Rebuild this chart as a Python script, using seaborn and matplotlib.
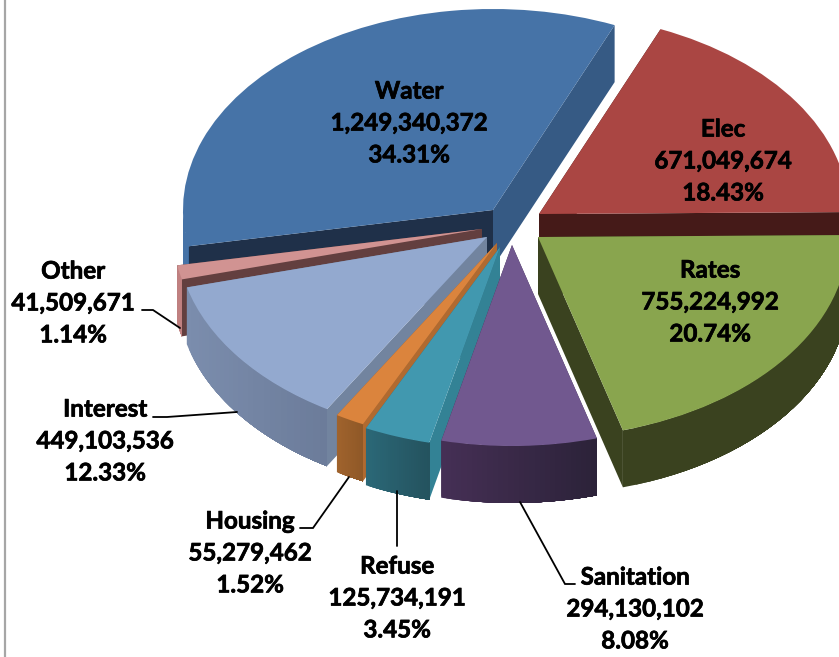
import numpy as np
import matplotlib
matplotlib.use("Agg")
import matplotlib.pyplot as plt
import matplotlib.patheffects as pe
import seaborn as sns

# Budget split, clockwise from the Elec slice
names = ["Elec", "Rates", "Sanitation", "Refuse", "Housing", "Interest", "Other", "Water"]
amounts = [671049674, 755224992, 294130102, 125734191, 55279462, 449103536, 41509671, 1249340372]

# Look of each slice
top_colors = sns.color_palette(["#aa4643", "#89a54e", "#71588f", "#4198af",
                                "#db843d", "#93a9cf", "#d19392", "#4673a7"])
rim_left = ["#451a18", "#3a421f", "#452f55", "#2b6877", "#a0632d", "#7b8dad", "#c08080", "#4673a7"]
rim_right = ["#451a18", "#3a421f", "#2b2238", "#24525e", "#8f5827", "#6b7b99", "#c08080", "#4673a7"]
cut_start = ["#451a18", "#3a421f", "#3a2a4b", "#338295", "#b06a30", "#72849f", "#633f3f", "#1f3049"]
cut_end = ["#451a18", "#3a421f", "#3a2a4b", "#2b6877", "#9a5d2b", "#72849f", "#633f3f", "#365a84"]

# Layout, in figure pixels: where each slice's point sits after being pulled out
tips = [(539, 214), (538, 237), (512, 245), (500, 247), (497, 243), (487, 237), (482, 229), (493, 210)]
label_xy = [(723, 161), (710, 302), (635, 609), (397, 598), (250, 553), (105, 441), (73, 303), (409, 123)]
leaders = {
    "Other": [(142, 310), (153, 310), (180, 328)],
    "Interest": [(153, 417), (167, 417), (237, 412)],
    "Housing": [(300, 528), (313, 528), (349, 477)],
    "Refuse": [(397, 546), (397, 491)],
    "Sanitation": [(575, 584), (565, 584), (520, 502)],
}
paint_order = ["Water", "Elec", "Other", "Interest", "Housing", "Refuse", "Rates", "Sanitation"]

W, H = 839, 657
RX, RY, DEPTH = 310.0, 201.0, 57.0
START_CW = 23.1


def X(px):
    return (np.asarray(px, dtype=float) - 493) / RX


def Y(py):
    return (210 - np.asarray(py, dtype=float)) / RY


sns.set_theme(style="white")
plt.rcParams["font.family"] = ["Lato", "DejaVu Sans"]

fig = plt.figure(figsize=(W / 100, H / 100), dpi=100, facecolor="white")
ax = fig.add_axes([0, 0, 1, 1])

total = sum(amounts)
fractions = [a / total for a in amounts]
edges = START_CW + 360 * np.concatenate([[0], np.cumsum(fractions)])
drop = DEPTH / RY

for z, name in enumerate(paint_order):
    i = names.index(name)
    a0, a1 = edges[i], edges[i + 1]
    cx, cy = float(X(tips[i][0])), float(Y(tips[i][1]))
    base = 10 + 3 * z

    # Straight cut faces from the slice's point to its rim; the clockwise-first one goes on top
    for ang, col in ((a1, cut_end[i]), (a0, cut_start[i])):
        ex = cx + np.sin(np.radians(ang))
        ey = cy + np.cos(np.radians(ang))
        ax.fill([cx, ex, ex, cx], [cy, ey, ey - drop, cy - drop],
                color=col, lw=0, zorder=base)

    # Curved rim on the near half of the pie, shaded from left to right.
    # Bands are painted from the left-hand end of the arc so each one overlaps the next.
    lo, hi = max(a0, 90.0), min(a1, 270.0)
    if hi > lo:
        steps = np.linspace(hi, lo, 31)
        c_r = np.array(matplotlib.colors.to_rgb(rim_right[i]))
        c_l = np.array(matplotlib.colors.to_rgb(rim_left[i]))
        xs = cx + np.sin(np.radians(steps))
        ys = cy + np.cos(np.radians(steps))
        span = xs.max() - xs.min()
        for k in range(len(steps) - 1):
            t = (xs[k] - xs.min()) / span
            col = c_l + (c_r - c_l) * t
            band_x = xs[k:]
            band_y = ys[k:]
            ax.fill(np.concatenate([band_x, band_x[::-1]]),
                    np.concatenate([band_y, band_y[::-1] - drop]),
                    color=col, lw=0, zorder=base + 1)

    # Flat top of the slice
    ax.pie([fractions[i]], normalize=False, startangle=90 - a0, counterclock=False,
           center=(cx, cy), radius=1.0, colors=[top_colors[i]], frame=True,
           wedgeprops={"linewidth": 0, "zorder": base + 2})

ax.set_aspect("auto")
ax.set_xlim(float(X(0)), float(X(W)))
ax.set_ylim(float(Y(H)), float(Y(0)))
ax.axis("off")

# Leader lines from the outside labels
for pts in leaders.values():
    px, py = zip(*pts)
    ax.plot(X(px), Y(py), color="black", lw=1.3, zorder=60, solid_joinstyle="miter")

# Name, amount and share of each slice
for i, name in enumerate(names):
    text = f"{name}\n{amounts[i]:,}\n{100 * amounts[i] / total:.2f}%"
    ax.text(float(X(label_xy[i][0])), float(Y(label_xy[i][1])), text, ha="center", va="center",
            fontsize=17.4, fontweight="bold", color="black", linespacing=1.47, zorder=70,
            path_effects=[pe.withStroke(linewidth=0.5, foreground="black")])

# Thin frame line down the left side
ax.plot(X([5, 5]), Y([0, H]), color="#a6a6a6", lw=1.6, zorder=80)

fig.savefig("out.png", dpi=100, facecolor="white")
